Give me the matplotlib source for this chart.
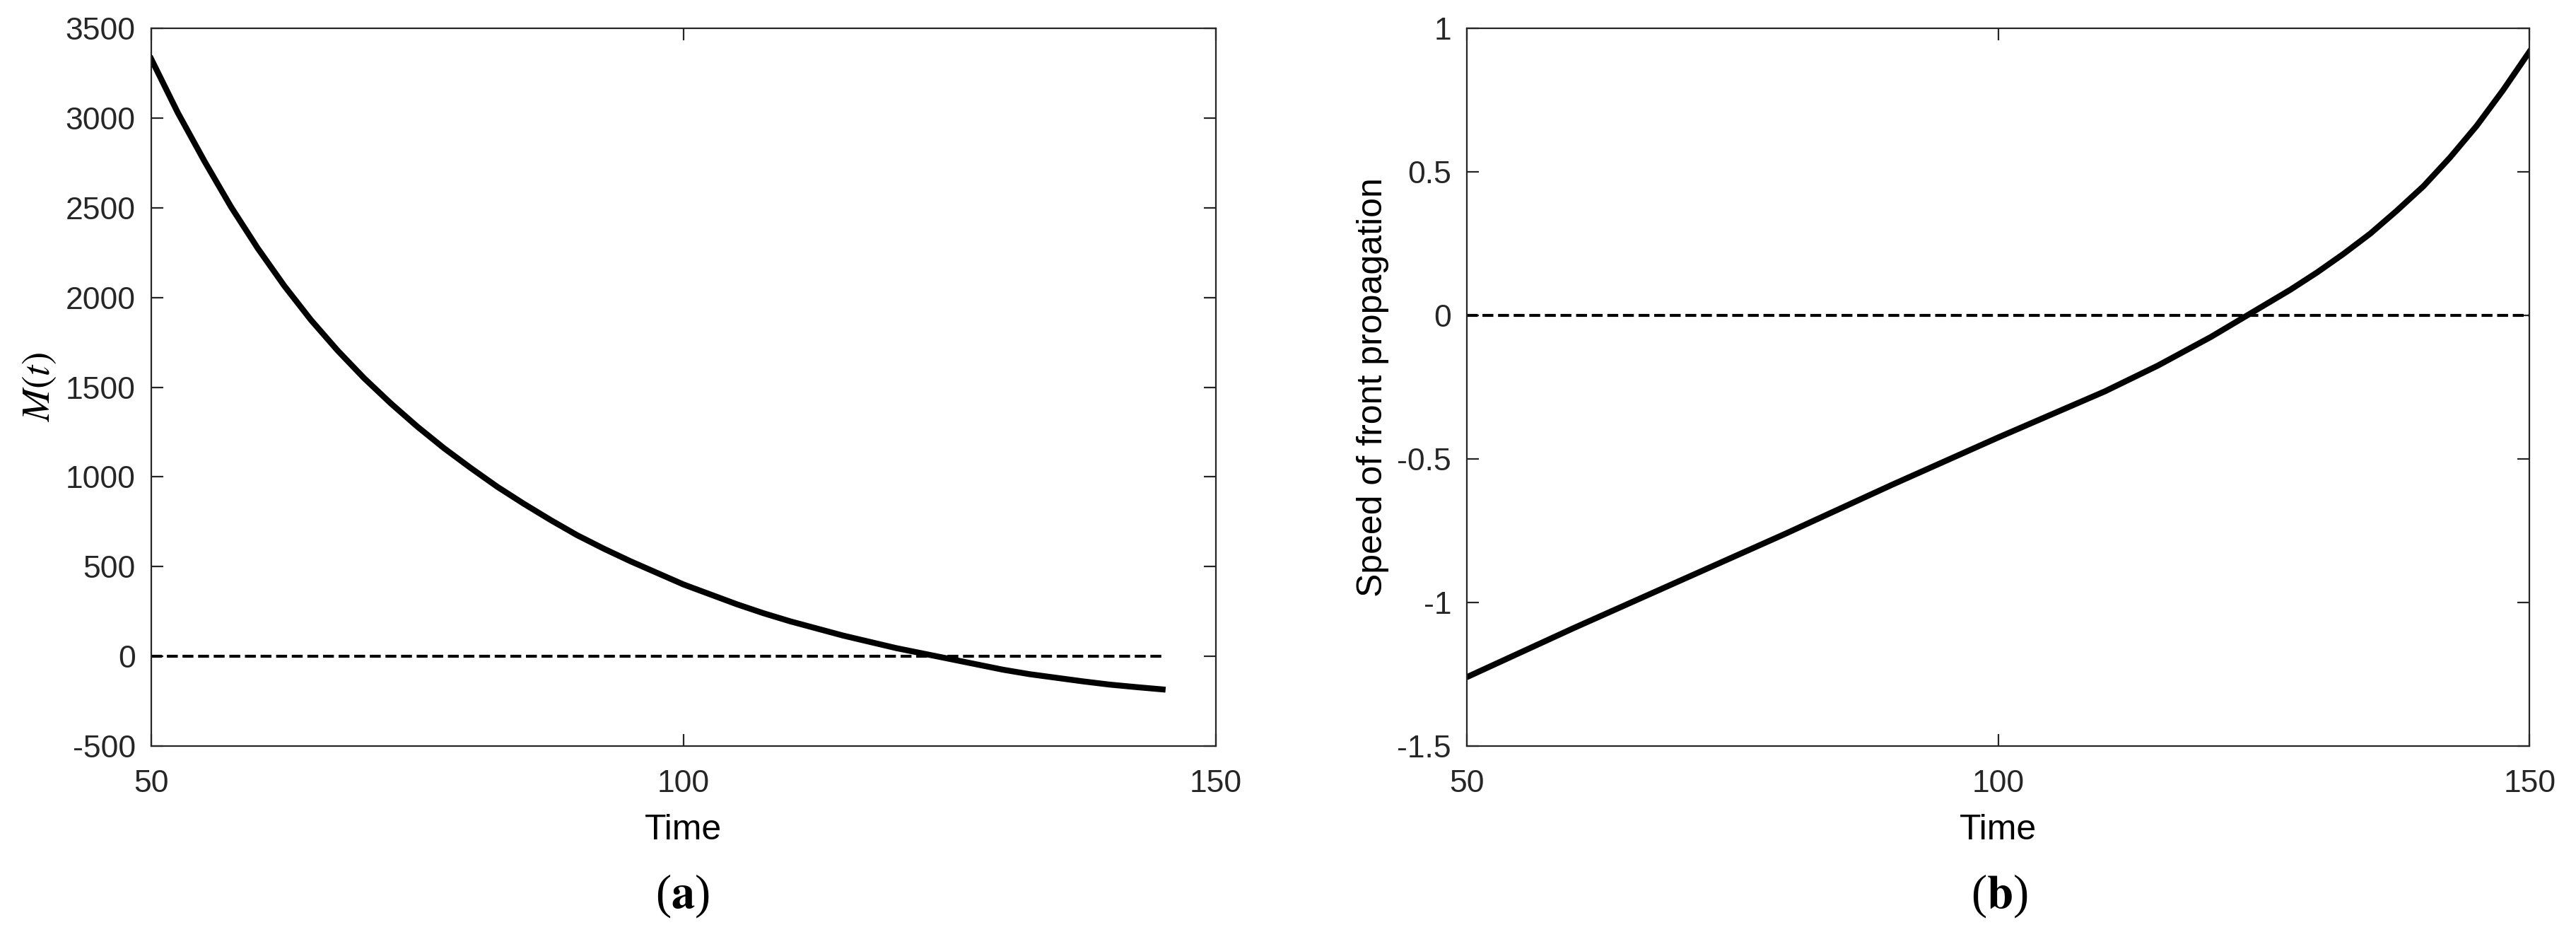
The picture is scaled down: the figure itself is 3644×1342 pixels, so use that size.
import matplotlib.pyplot as plt

plt.rcParams['font.family'] = ['Liberation Sans', 'DejaVu Sans']
plt.rcParams['mathtext.fontset'] = 'stix'

# Data
t_m = [50, 52.5, 55, 57.5, 60, 62.5, 65, 67.5, 70, 72.5, 75, 77.5, 80, 82.5, 85, 87.5, 90,
       92.5, 95, 97.5, 100, 102.5, 105, 107.5, 110, 112.5, 115, 117.5, 120, 122.5, 125,
       127.5, 130, 132.5, 135, 137.5, 140, 142.5, 145]
m_vals = [3330, 3030, 2760, 2505, 2275, 2065, 1875, 1705, 1550, 1410, 1280, 1160, 1050, 945,
          850, 760, 675, 600, 530, 465, 400, 345, 290, 240, 195, 155, 115, 80, 45, 15, -15,
          -45, -75, -100, -120, -140, -158, -172, -185]

t_s = [50, 60, 70, 80, 90, 100, 105, 110, 115, 120, 122.5, 125, 127.5, 130, 132.5, 135,
       137.5, 140, 142.5, 145, 147.5, 150]
s_vals = [-1.26, -1.09, -0.925, -0.76, -0.59, -0.425, -0.345, -0.265, -0.175, -0.075, -0.02,
          0.035, 0.09, 0.15, 0.215, 0.285, 0.365, 0.45, 0.55, 0.66, 0.785, 0.92]

fs = 16
fig = plt.figure(figsize=(18.22, 6.71), dpi=200)
ax1 = fig.add_axes([0.0587, 0.214, 0.4133, 0.756])
ax2 = fig.add_axes([0.5695, 0.214, 0.4125, 0.756])

ax1.plot(t_m, m_vals, color='black', linewidth=3)
ax1.plot([50, 145], [0, 0], 'k--', linewidth=1.5)
ax1.set_xlim(50, 150)
ax1.set_ylim(-500, 3500)
ax1.set_xticks([50, 100, 150])
ax1.set_yticks(range(-500, 3501, 500))
ax1.set_yticklabels([str(v) for v in range(-500, 3501, 500)])
ax1.set_xlabel('Time', fontsize=fs + 2, labelpad=8)
ax1.set_ylabel(r'$\mathit{M(t)}$', fontsize=fs + 4)

ax2.plot(t_s, s_vals, color='black', linewidth=3)
ax2.plot([50, 150], [0, 0], 'k--', linewidth=1.5)
ax2.set_xlim(50, 150)
ax2.set_ylim(-1.5, 1)
ax2.set_xticks([50, 100, 150])
ax2.set_yticks([-1.5, -1, -0.5, 0, 0.5, 1])
ax2.set_yticklabels(['-1.5', '-1', '-0.5', '0', '0.5', '1'])
ax2.set_xlabel('Time', fontsize=fs + 2, labelpad=8)
ax2.set_ylabel('Speed of front propagation', fontsize=fs + 2)

for ax in (ax1, ax2):
    ax.tick_params(labelsize=fs, direction='in', top=True, right=True, length=6,
                   colors='#262626')
    ax.tick_params(axis='x', pad=12)
    ax.tick_params(axis='y', pad=8)
    for sp in ax.spines.values():
        sp.set_color('#262626')
        sp.set_linewidth(0.8)

fig.text(0.265, 0.056, r'($\mathbf{a}$)', ha='center', va='center', fontsize=24,
         family='Liberation Serif')
fig.text(0.776, 0.056, r'($\mathbf{b}$)', ha='center', va='center', fontsize=24,
         family='Liberation Serif')

fig.savefig('out.png', dpi=200)
